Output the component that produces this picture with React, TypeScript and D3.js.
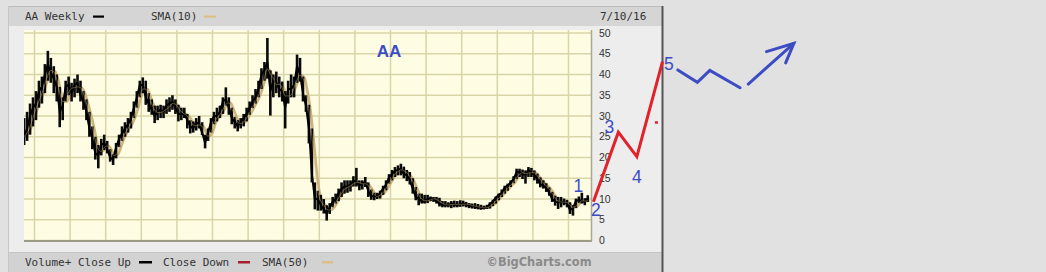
import React from "react";
import * as d3 from "d3";

const W = 1046;
const H = 272;

// Monthly bars starting September 2000 (index 0) through July 2016
const START_YEAR = 2000;
const START_MONTH = 9;

const highs = [
  29.5, 31, 33, 34.5,
  36, 38.5, 39.5, 42.5, 45.7, 44, 42, 40, 37, 34.5, 38.5, 39.5,
  38, 39, 40, 38.5, 36, 34, 31, 27.5, 25, 23, 24.5, 25.5,
  24, 22, 20.8, 23.5, 25.5, 27.5, 28.5, 29.5, 31, 33.5, 36, 38.5,
  39.3, 38.5, 35.5, 34, 32.5, 32.5, 32.7, 32.5, 34, 34.5, 35, 34,
  32.7, 32, 32, 30.5, 29, 28.7, 29.5, 30, 28.5, 25.5, 27, 29.5,
  31, 32, 32.5, 34.5, 36.9, 34.5, 32, 29.8, 29, 29.5, 30.5, 32,
  33.5, 35, 36.5, 38.5, 41.5, 43, 48.8, 41, 40, 40.7, 39.5, 38.3,
  36, 38.5, 40, 39.5, 44.8, 44, 39.5, 35, 32.7, 27, 14, 12,
  11, 10, 8.5, 9, 10.5, 11.3, 12.5, 14, 14.5, 14.5, 14.5, 15.5,
  17.5, 14.5, 14.5, 15.3, 14, 12.3, 11.5, 11.5, 12, 13.2, 14.5, 16,
  17, 17.7, 18.1, 18.5, 17.8, 17, 16.5, 15, 12.9, 11.3, 11.3, 11,
  11, 10.6, 10.5, 10.5, 10.3, 9.5, 9.5, 9.2, 9.5, 9.6, 9.5, 9.7,
  9.6, 9.3, 9, 8.9, 9, 8.8, 8.6, 8.4, 8.6, 9.2, 9.8, 10.6,
  11.3, 12.3, 13.2, 13.7, 14.5, 15.5, 17.3, 17.3, 17.1, 16.9, 17.7, 17.5,
  16.9, 16.1, 15.2, 14.5, 13.8, 12.8, 11.7, 10.8, 10.5, 10.5, 10.1, 9.8,
  9.2, 8.5, 10.1, 10.6, 11.5, 10.2, 10.9,
];

const lows = [
  23, 24, 25.5, 27.5,
  29, 32, 33, 35.5, 38.5, 38, 35.5, 33.5, 27.3, 29, 33.5, 35,
  33.5, 34.5, 35.5, 33.5, 31.5, 29, 25, 22, 19.5, 17.4, 20.5, 21.8,
  21, 19, 18.2, 19.8, 22.5, 24, 25, 26, 27, 29.5, 32, 34.5,
  35.5, 32.7, 31, 30.3, 28.3, 29, 29.5, 29.5, 30.5, 31, 31.5, 30.5,
  28.7, 29, 29.5, 27, 25.8, 26, 26.5, 27, 25.4, 22.2, 24, 26,
  28, 28.7, 29.5, 30.5, 32.5, 30.3, 28, 27, 26.3, 27, 27.5, 28.7,
  30.3, 31.9, 33, 34.5, 36.5, 38.5, 39, 30.1, 34.5, 35.5, 34.5, 33.5,
  27, 33, 34.5, 34.5, 38, 38.3, 33.5, 31, 23.4, 14, 7.5, 7.2,
  7.2, 6.5, 4.8, 6.4, 8, 8.9, 9.5, 10.5, 11.3, 11.5, 11.8, 13,
  13, 12.1, 12.3, 12.9, 10.5, 9.8, 9.7, 10, 10.1, 11, 12.1, 13.7,
  14.5, 15.3, 15.7, 15.7, 15, 14.3, 13.5, 11.3, 9.7, 8.5, 8.9, 8.9,
  9, 9.5, 9.3, 8.9, 8.2, 8, 8, 8, 7.8, 8, 8, 8.1,
  8.2, 8, 7.8, 7.7, 7.6, 7.5, 7.4, 7.5, 7.6, 7.7, 8.3, 8.9,
  9.7, 10.5, 11.3, 12, 12.9, 13.8, 14.8, 15.3, 14.8, 13.7, 15.3, 15.3,
  14.5, 13.7, 12.8, 12.5, 11.7, 10.8, 9.3, 8.4, 7.6, 8, 8.5, 8,
  6.4, 6, 7.8, 9, 8.9, 8.5, 9.3,
];

const closes = [
  25, 27, 30, 32,
  33, 36, 37, 40, 42.5, 40.5, 39, 37, 31, 32.5, 37, 37.5,
  35.5, 37.5, 38, 35, 33.5, 31, 27, 24.5, 21, 20.5, 23, 23.5,
  22, 20, 19.5, 22.5, 24.5, 25.8, 27, 28, 29.5, 32, 34.5, 37.5,
  37.5, 34.5, 33, 31.5, 30, 31, 31.5, 31, 32.5, 33, 33.5, 32,
  30.5, 30.5, 30.5, 29, 27.5, 27, 28.5, 28, 26, 23.5, 26, 28.5,
  30, 30, 31, 33.5, 34, 32, 29.5, 28.5, 27.5, 28.5, 29.5, 30.5,
  32, 33.5, 34.5, 36.5, 40, 41, 43, 36, 38.5, 38, 36.5, 36,
  32, 36.5, 36.5, 37.5, 42, 40, 35.5, 32.5, 27, 16, 10, 10,
  8.5, 7.5, 6.5, 8, 9.3, 10, 11.5, 12.5, 13, 13, 13.5, 14.5,
  14, 13.2, 13.8, 14, 12, 10.5, 10.8, 10.5, 11.5, 12.5, 13.5, 15.2,
  16, 16.8, 17, 17.3, 16, 15.8, 14.5, 12.5, 10.5, 10, 9.5, 9.3,
  10, 10.1, 10, 9.5, 8.8, 8.6, 8.5, 8.6, 8.9, 8.7, 8.5, 8.7,
  9, 8.5, 8.5, 8.2, 8.2, 7.9, 7.9, 7.8, 8, 8.8, 9.4, 10.3,
  11, 11.5, 12.8, 13.2, 14, 14.8, 16.5, 16.5, 16, 15.8, 17, 16.2,
  15.8, 14.8, 13.5, 13.3, 12.6, 11.5, 10, 9.3, 9.2, 9.3, 9.2, 9,
  7.3, 7.8, 9.5, 9.8, 9.4, 9.3, 10.2,
];

const yTicks = [0, 5, 10, 15, 20, 25, 30, 35, 40, 45, 50];
const gridYears = [2001, 2002, 2003, 2004, 2005, 2006, 2007, 2008, 2009, 2010, 2011, 2012, 2013, 2014, 2015, 2016];

// Hand-drawn wave projection (year, price)
const redWave = [
  { t: 2016.7, v: 9.35 },
  { t: 2017.4, v: 26.1 },
  { t: 2017.92, v: 20.2 },
  { t: 2018.64, v: 43.1 },
];
const redDot = { t: 2018.47, v: 28.5 };
const blueZig = [
  { t: 2019.07, v: 41.1 },
  { t: 2019.62, v: 38.1 },
  { t: 2019.97, v: 41.0 },
  { t: 2020.82, v: 36.8 },
];
const blueArrow = [
  { t: 2021.05, v: 37.7 },
  { t: 2022.33, v: 47.5 },
];
const arrowHead = [
  { t: 2021.56, v: 45.5 },
  { t: 2022.33, v: 47.5 },
  { t: 2022.1, v: 42.8 },
];
const waveLabels = [
  { label: "1", t: 2016.275, v: 13.1 },
  { label: "2", t: 2016.77, v: 7.35 },
  { label: "3", t: 2017.15, v: 27.35 },
  { label: "4", t: 2017.92, v: 15.3 },
  { label: "5", t: 2018.82, v: 42.5 },
];
const tickerLabel = { label: "AA", t: 2010.96, v: 45.7 };

const PLOT = { left: 24, right: 591, top: 30, bottom: 241 };

export default function App() {
  const x = d3.scaleLinear().domain([2001, 2016]).range([34.5, 568.5]);
  const y = d3.scaleLinear().domain([0, 50]).range([240.5, 33]);

  const times = closes.map((_, i) => START_YEAR + (START_MONTH - 1 + i + 0.5) / 12);
  const sma = closes.map((_, i) => {
    const s = closes.slice(Math.max(0, i - 2), i + 1);
    return d3.mean(s) as number;
  });

  const smaLine = d3
    .line<number>()
    .x((_, i) => x(times[i]))
    .y((d) => y(d))
    .curve(d3.curveMonotoneX);
  const closeLine = d3
    .line<number>()
    .x((_, i) => x(times[i]))
    .y((d) => y(d));
  const ptLine = d3
    .line<{ t: number; v: number }>()
    .x((d) => x(d.t))
    .y((d) => y(d.v));

  const blue = "#3c4cc4";
  const red = "#e2222b";
  const tan = "#cdb47c";
  const mono = "'DejaVu Sans Mono', monospace";

  return (
    <svg
      width={W}
      height={H}
      style={{ position: "absolute", left: 0, top: 0, display: "block" }}
    >
      <rect x={0} y={0} width={W} height={H} fill="#e1e1e1" />
      {/* panel */}
      <rect x={9} y={6} width={653} height={266} fill="#ededed" />
      <rect x={9} y={6} width={653} height={20} fill="#d5d5d5" />
      <line x1={9} x2={662} y1={6.5} y2={6.5} stroke="#bcbcbc" />
      <line x1={8.5} x2={8.5} y1={6} y2={272} stroke="#c6c6c6" />
      <rect x={9} y={252} width={653} height={20} fill="#d2d2d2" />
      <line x1={9} x2={662} y1={252.5} y2={252.5} stroke="#c4c4c4" />
      <rect x={661.5} y={6} width={2} height={266} fill="#555" />

      {/* title bar */}
      <text x={25} y={20} fontFamily={mono} fontSize={11} fill="#333">AA Weekly</text>
      <rect x={93} y={15.5} width={11} height={2.2} fill="#000" />
      <text x={151} y={20} fontFamily={mono} fontSize={11} fill="#333">SMA(10)</text>
      <rect x={204} y={15.5} width={12} height={2.2} fill="#dcbf85" />
      <text x={600} y={20} fontFamily={mono} fontSize={11} fill="#333">7/10/16</text>

      {/* plot area */}
      <rect x={PLOT.left} y={PLOT.top} width={PLOT.right - PLOT.left} height={PLOT.bottom - PLOT.top} fill="#fefde4" />
      {yTicks.map((t) => (
        <line key={"h" + t} x1={PLOT.left} x2={PLOT.right} y1={y(t)} y2={y(t)} stroke="#d8d5a8" strokeWidth={1.5} />
      ))}
      {gridYears.map((yr) => (
        <line key={"v" + yr} x1={x(yr)} x2={x(yr)} y1={PLOT.top} y2={PLOT.bottom} stroke="#d8d5a8" strokeWidth={1.5} />
      ))}
      <line x1={PLOT.left} x2={PLOT.right + 1} y1={PLOT.bottom} y2={PLOT.bottom} stroke="#9d9c86" strokeWidth={2} />
      <line x1={PLOT.right + 0.5} x2={PLOT.right + 0.5} y1={PLOT.top} y2={PLOT.bottom} stroke="#a9a893" strokeWidth={1.5} />

      <defs>
        <clipPath id="plotclip">
          <rect x={PLOT.left} y={PLOT.top} width={PLOT.right - PLOT.left} height={PLOT.bottom - PLOT.top - 1} />
        </clipPath>
      </defs>
      <g clipPath="url(#plotclip)">
        <path d={smaLine(sma) || ""} fill="none" stroke={tan} strokeWidth={2.5} transform="translate(1.5,0)" />
        {closes.map((c, i) => (
          <rect
            key={"b" + i}
            x={x(times[i]) - 1.3}
            y={y(highs[i])}
            width={2.6}
            height={Math.max(1, y(lows[i]) - y(highs[i]))}
            fill="#0a0a0a"
          />
        ))}
        <path d={closeLine(closes) || ""} fill="none" stroke="#000" strokeWidth={2} />
        <path d={smaLine(sma) || ""} fill="none" stroke={tan} strokeWidth={0.9} opacity={0.5} />
      </g>

      {/* y axis labels */}
      {yTicks.map((t) => (
        <text key={"yl" + t} x={599} y={y(t)} dy="0.35em" fontFamily="'Liberation Sans', Arial, sans-serif" fontSize={10.5} fill="#333">
          {t}
        </text>
      ))}

      {/* bottom legend */}
      <text x={25} y={265.5} fontFamily={mono} fontSize={11} fill="#333">Volume+ Close Up</text>
      <rect x={139} y={261} width={13} height={2.5} fill="#000" />
      <text x={163} y={265.5} fontFamily={mono} fontSize={11} fill="#333">Close Down</text>
      <rect x={238} y={261} width={12} height={2.5} fill="#a3202c" />
      <text x={262} y={265.5} fontFamily={mono} fontSize={11} fill="#333">SMA(50)</text>
      <rect x={322} y={261} width={11} height={2.5} fill="#dcbf85" />
      <text x={591.5} y={266} textAnchor="end" fontFamily="'DejaVu Sans', Verdana, sans-serif" fontWeight="bold" fontSize={11.4} fill="#8a8a8a">
        ©BigCharts.com
      </text>

      {/* annotations */}
      <text x={x(tickerLabel.t)} y={y(tickerLabel.v)} dy="0.35em" textAnchor="middle" fontFamily="'Liberation Sans', Arial, sans-serif" fontWeight="bold" fontSize={17} fill={blue}>
        {tickerLabel.label}
      </text>
      <path d={ptLine(redWave) || ""} fill="none" stroke={red} strokeWidth={3} strokeLinejoin="miter" />
      <rect x={x(redDot.t) - 1.5} y={y(redDot.v) - 1} width={3} height={2.5} fill={red} />
      <path d={ptLine(blueZig) || ""} fill="none" stroke={blue} strokeWidth={3} strokeLinecap="round" strokeLinejoin="miter" />
      <path d={ptLine(blueArrow) || ""} fill="none" stroke={blue} strokeWidth={3} strokeLinecap="round" />
      <path d={ptLine(arrowHead) || ""} fill="none" stroke={blue} strokeWidth={3} strokeLinecap="round" strokeLinejoin="miter" />
      {waveLabels.map((w) => (
        <text key={"w" + w.label} x={x(w.t)} y={y(w.v)} dy="0.35em" textAnchor="middle" fontFamily="'Liberation Sans', Arial, sans-serif" fontSize={17.5} fill={blue}>
          {w.label}
        </text>
      ))}
    </svg>
  );
}
